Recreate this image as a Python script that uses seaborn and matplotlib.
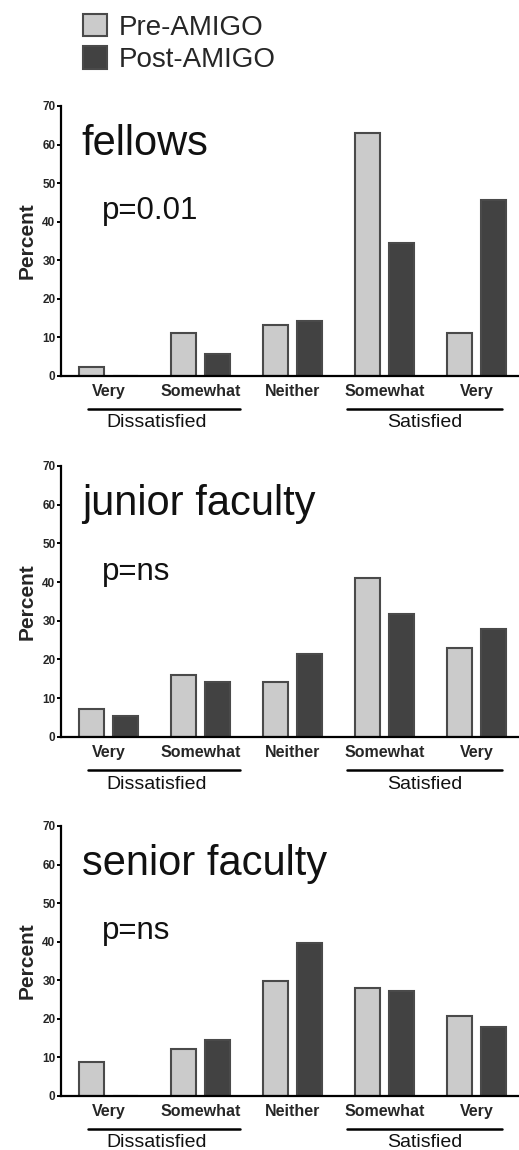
import matplotlib
matplotlib.use("Agg")
import matplotlib.pyplot as plt
import seaborn as sns
import pandas as pd
from matplotlib.patches import Patch

# ---- data ----
categories = ["Very dissatisfied", "Somewhat dissatisfied", "Neither",
              "Somewhat satisfied", "Very satisfied"]
tick_labels = ["Very", "Somewhat", "Neither", "Somewhat", "Very"]
periods = ["Pre-AMIGO", "Post-AMIGO"]
panels = ["fellows", "junior faculty", "senior faculty"]
p_values = ["p=0.01", "p=ns", "p=ns"]

fellows_pre = [2.2, 11.0, 13.1, 63.0, 11.1]
fellows_post = [0.0, 5.7, 14.3, 34.4, 45.6]
junior_pre = [7.2, 15.9, 14.2, 41.0, 23.0]
junior_post = [5.4, 14.2, 21.3, 31.6, 27.9]
senior_pre = [8.7, 12.0, 29.7, 27.9, 20.8]
senior_post = [0.0, 14.4, 39.7, 27.1, 17.9]

group_labels = ["Dissatisfied", "Satisfied"]
y_ticks = [0, 10, 20, 30, 40, 50, 60, 70]

series = {
    "fellows": (fellows_pre, fellows_post),
    "junior faculty": (junior_pre, junior_post),
    "senior faculty": (senior_pre, senior_post),
}

rows = []
for panel in panels:
    pre, post = series[panel]
    for cat, v in zip(categories, pre):
        rows.append({"panel": panel, "category": cat, "period": periods[0], "percent": v})
    for cat, v in zip(categories, post):
        rows.append({"panel": panel, "category": cat, "period": periods[1], "percent": v})
df = pd.DataFrame(rows)

# ---- style ----
sns.set_theme(style="ticks")
plt.rcParams["font.family"] = ["Liberation Sans", "DejaVu Sans"]

W, H = 519, 1150
fig = plt.figure(figsize=(W / 100, H / 100), dpi=100)

palette = {periods[0]: "#cbcbcb", periods[1]: "#424242"}

# axes boxes in pixels: (top, bottom)
boxes = [(106, 375.7), (466, 736.7), (826, 1095.7)]
left_px, right_px = 61, 519

for panel, pval, (top, bot) in zip(panels, p_values, boxes):
    ax = fig.add_axes([left_px / W, 1 - bot / H, (right_px - left_px) / W, (bot - top) / H])
    sub = df[df["panel"] == panel]
    sns.barplot(data=sub, x="category", y="percent", hue="period",
                order=categories, hue_order=periods, palette=palette,
                width=0.74, gap=0.27, edgecolor="#4a4a4a", linewidth=1.5,
                errorbar=None, legend=False, ax=ax)
    ax.set_xlim(-0.52, 4.46)
    ax.set_ylim(0, 70)
    ax.set_yticks(y_ticks)
    ax.set_yticklabels([str(t) for t in y_ticks], fontsize=8.5, fontweight="bold")
    ax.set_xticks(range(len(categories)))
    ax.set_xticklabels(tick_labels, fontsize=11.5, fontweight="bold")
    ax.tick_params(axis="x", length=0, pad=6)
    ax.tick_params(axis="y", length=3, width=1.4, pad=1, color="black")
    ax.set_xlabel("")
    ax.set_ylabel("Percent", fontsize=15, fontweight="bold", labelpad=4)
    for s in ["top", "right"]:
        ax.spines[s].set_visible(False)
    for s in ["left", "bottom"]:
        ax.spines[s].set_linewidth(1.6)
        ax.spines[s].set_color("black")

    ax.text(0.045, 0.86, panel, transform=ax.transAxes, fontsize=30,
            ha="left", va="center", color="#111111")
    ax.text(0.09, 0.61, pval, transform=ax.transAxes, fontsize=22.5,
            ha="left", va="center", color="#111111")

    tr = ax.get_xaxis_transform()
    spans = [(-0.23, 1.43), (2.59, 4.27)]
    label_x = [0.52, 3.43]
    for (x0, x1), lx, lab in zip(spans, label_x, group_labels):
        ax.plot([x0, x1], [-0.123, -0.123], transform=tr, color="black",
                lw=1.8, clip_on=False)
        ax.text(lx, -0.175, lab, transform=tr, fontsize=14,
                ha="center", va="center", color="#111111")

handles = [Patch(facecolor=palette[p], edgecolor="#4a4a4a", linewidth=1.5, label=p)
           for p in periods]
fig.legend(handles=handles, loc="upper left", bbox_to_anchor=(72 / W, 1 - 3 / H),
           frameon=False, fontsize=20, handlelength=0.85, handleheight=0.85,
           handletextpad=0.45, labelspacing=0.2, borderaxespad=0)

fig.savefig("out.png", dpi=100, facecolor="white")
